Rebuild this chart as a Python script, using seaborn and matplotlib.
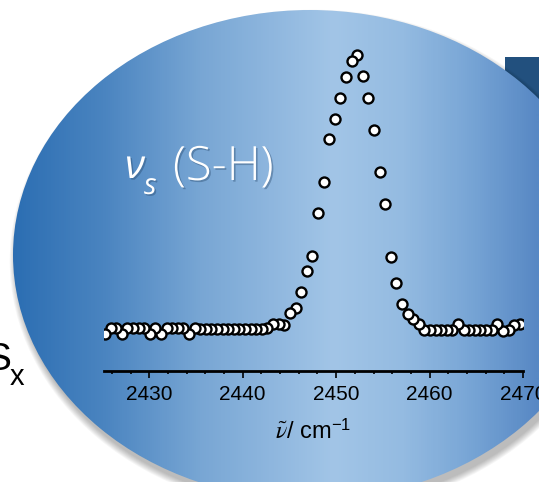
import numpy as np
import matplotlib
matplotlib.use("Agg")
import matplotlib.pyplot as plt
import matplotlib.patheffects as pe
import seaborn as sns
from matplotlib.patches import Ellipse, Rectangle
from matplotlib.colors import LinearSegmentedColormap
from matplotlib.ticker import MultipleLocator

# S-H stretching band (intensity normalised to the peak)
wavenumber = [2425.25, 2425.85, 2426.45, 2427.05, 2427.65, 2428.25, 2428.85, 2429.45, 2430.05, 2430.65,
              2431.25, 2431.85, 2432.45, 2433.05, 2433.65, 2434.25, 2434.85, 2435.45, 2436.05, 2436.65,
              2437.25, 2437.85, 2438.45, 2439.05, 2439.65, 2440.25, 2440.85, 2441.45, 2442.05, 2442.65,
              2443.25, 2443.85, 2444.45, 2445.05, 2445.65, 2446.25, 2446.85, 2447.45, 2448.05, 2448.65,
              2449.25, 2449.85, 2450.45, 2451.05, 2451.65, 2452.25, 2452.85, 2453.45, 2454.05, 2454.65,
              2455.25, 2455.85, 2456.45, 2457.05, 2457.65, 2458.25, 2458.85, 2459.45, 2460.05, 2460.65,
              2461.25, 2461.85, 2462.45, 2463.05, 2463.65, 2464.25, 2464.85, 2465.45, 2466.05, 2466.65,
              2467.25, 2467.85, 2468.45, 2469.05, 2469.65]
intensity = [-0.018, 0.005, 0.004, -0.018, 0.005, 0.003, 0.003, 0.003, -0.018, 0.005,
             -0.018, 0.005, 0.003, 0.003, 0.003, -0.018, 0.005, 0.001, 0.001, 0.001,
             0.001, 0.001, 0.001, 0.001, 0.001, 0.001, 0.001, 0.001, 0.001, 0.002,
             0.018, 0.018, 0.015, 0.057, 0.078, 0.134, 0.212, 0.268, 0.423, 0.538,
             0.692, 0.768, 0.842, 0.921, 0.977, 1.000, 0.923, 0.844, 0.727, 0.572,
             0.457, 0.264, 0.169, 0.091, 0.055, 0.038, 0.017, -0.004, -0.004, -0.004,
             -0.004, -0.004, -0.004, 0.018, -0.004, -0.004, -0.004, -0.004, -0.004, -0.004,
             0.018, -0.008, -0.004, 0.015, 0.020]
xticks = [2430, 2440, 2450, 2460, 2470]

sns.set_style("ticks")
plt.rcParams['font.family'] = ['Liberation Sans', 'DejaVu Sans']

fig = plt.figure(figsize=(5.39, 4.82), dpi=100)

# background layer in pixel coordinates
bg = fig.add_axes([0, 0, 1, 1])
bg.set_xlim(0, 539)
bg.set_ylim(482, 0)
bg.axis('off')

bg.add_patch(Rectangle((505, 57), 45, 75, color='#22507e', lw=0, zorder=0.5))
for k in range(8):
    bg.add_patch(Ellipse((313, 261), 594 + 1.8 * k, 490 + 1.8 * k, color='black',
                         alpha=0.035, lw=0, zorder=1))

oval = Ellipse((310, 255), 594, 490, fill=False, lw=0)
bg.add_patch(oval)
stops = [(0.0, '#2a6aae'), (0.03, '#2d6fb3'), (0.19, '#4a84c0'), (0.37, '#78a6d4'),
         (0.62, '#a2c5e7'), (0.75, '#94bbe1'), (0.87, '#79a6d6'), (1.0, '#5788c4')]
cmap = LinearSegmentedColormap.from_list('oval', stops)
im = bg.imshow(np.linspace(0, 1, 539)[None, :], extent=(0, 539, 482, 0), cmap=cmap,
               aspect='auto', interpolation='bilinear', zorder=2)
im.set_clip_path(oval)

shadow = [pe.withSimplePatchShadow(offset=(1.2, -1.2), shadow_rgbFace='#1d3c5e', alpha=0.35)]
bg.text(125, 178, 'ν', color='white', fontsize=29, family=['Open Sans', 'DejaVu Sans'],
        style='italic', va='baseline', path_effects=shadow, zorder=3)
bg.text(144, 194, 's', color='white', fontsize=21, family=['Open Sans', 'DejaVu Sans'],
        style='italic', va='baseline', path_effects=shadow, zorder=3)
bg.text(173, 180, '(S-H)', color='white', fontsize=34, family=['Open Sans', 'DejaVu Sans'],
        weight='light', va='baseline', path_effects=shadow, zorder=3)

bg.text(11, 370, 'S', color='black', fontsize=28, ha='right', va='baseline')
bg.text(10, 385, 'x', color='black', fontsize=21, ha='left', va='baseline')

# spectrum axes
ax = fig.add_axes([104 / 539, 111 / 482, 419 / 539, 331 / 482])
ax.set_facecolor('none')
sns.scatterplot(x=wavenumber[::-1], y=intensity[::-1], ax=ax, color='white',
                edgecolor='black', s=52, linewidth=1.7, zorder=3)
ax.set_xlim(2425.15, 2470)
ax.set_ylim(-0.1533, 1.0547)
for side in ['left', 'top', 'right']:
    ax.spines[side].set_visible(False)
ax.spines['bottom'].set_linewidth(2)
ax.spines['bottom'].set_color('black')
ax.set_yticks([])
ax.set_xticks(xticks)
ax.xaxis.set_minor_locator(MultipleLocator(2))
ax.tick_params(axis='x', which='major', direction='out', length=5, width=1.2,
               labelsize=15, pad=5, colors='black')
ax.tick_params(axis='x', which='minor', direction='out', length=2.5, width=1.2, colors='black')
ax.set_ylabel('')
ax.set_xlabel(r'$\tilde{\nu}$/ cm$^{\mathregular{-1}}$', fontsize=17, labelpad=11,
              math_fontfamily='stix', color='black')

fig.savefig('out.png', dpi=100)
